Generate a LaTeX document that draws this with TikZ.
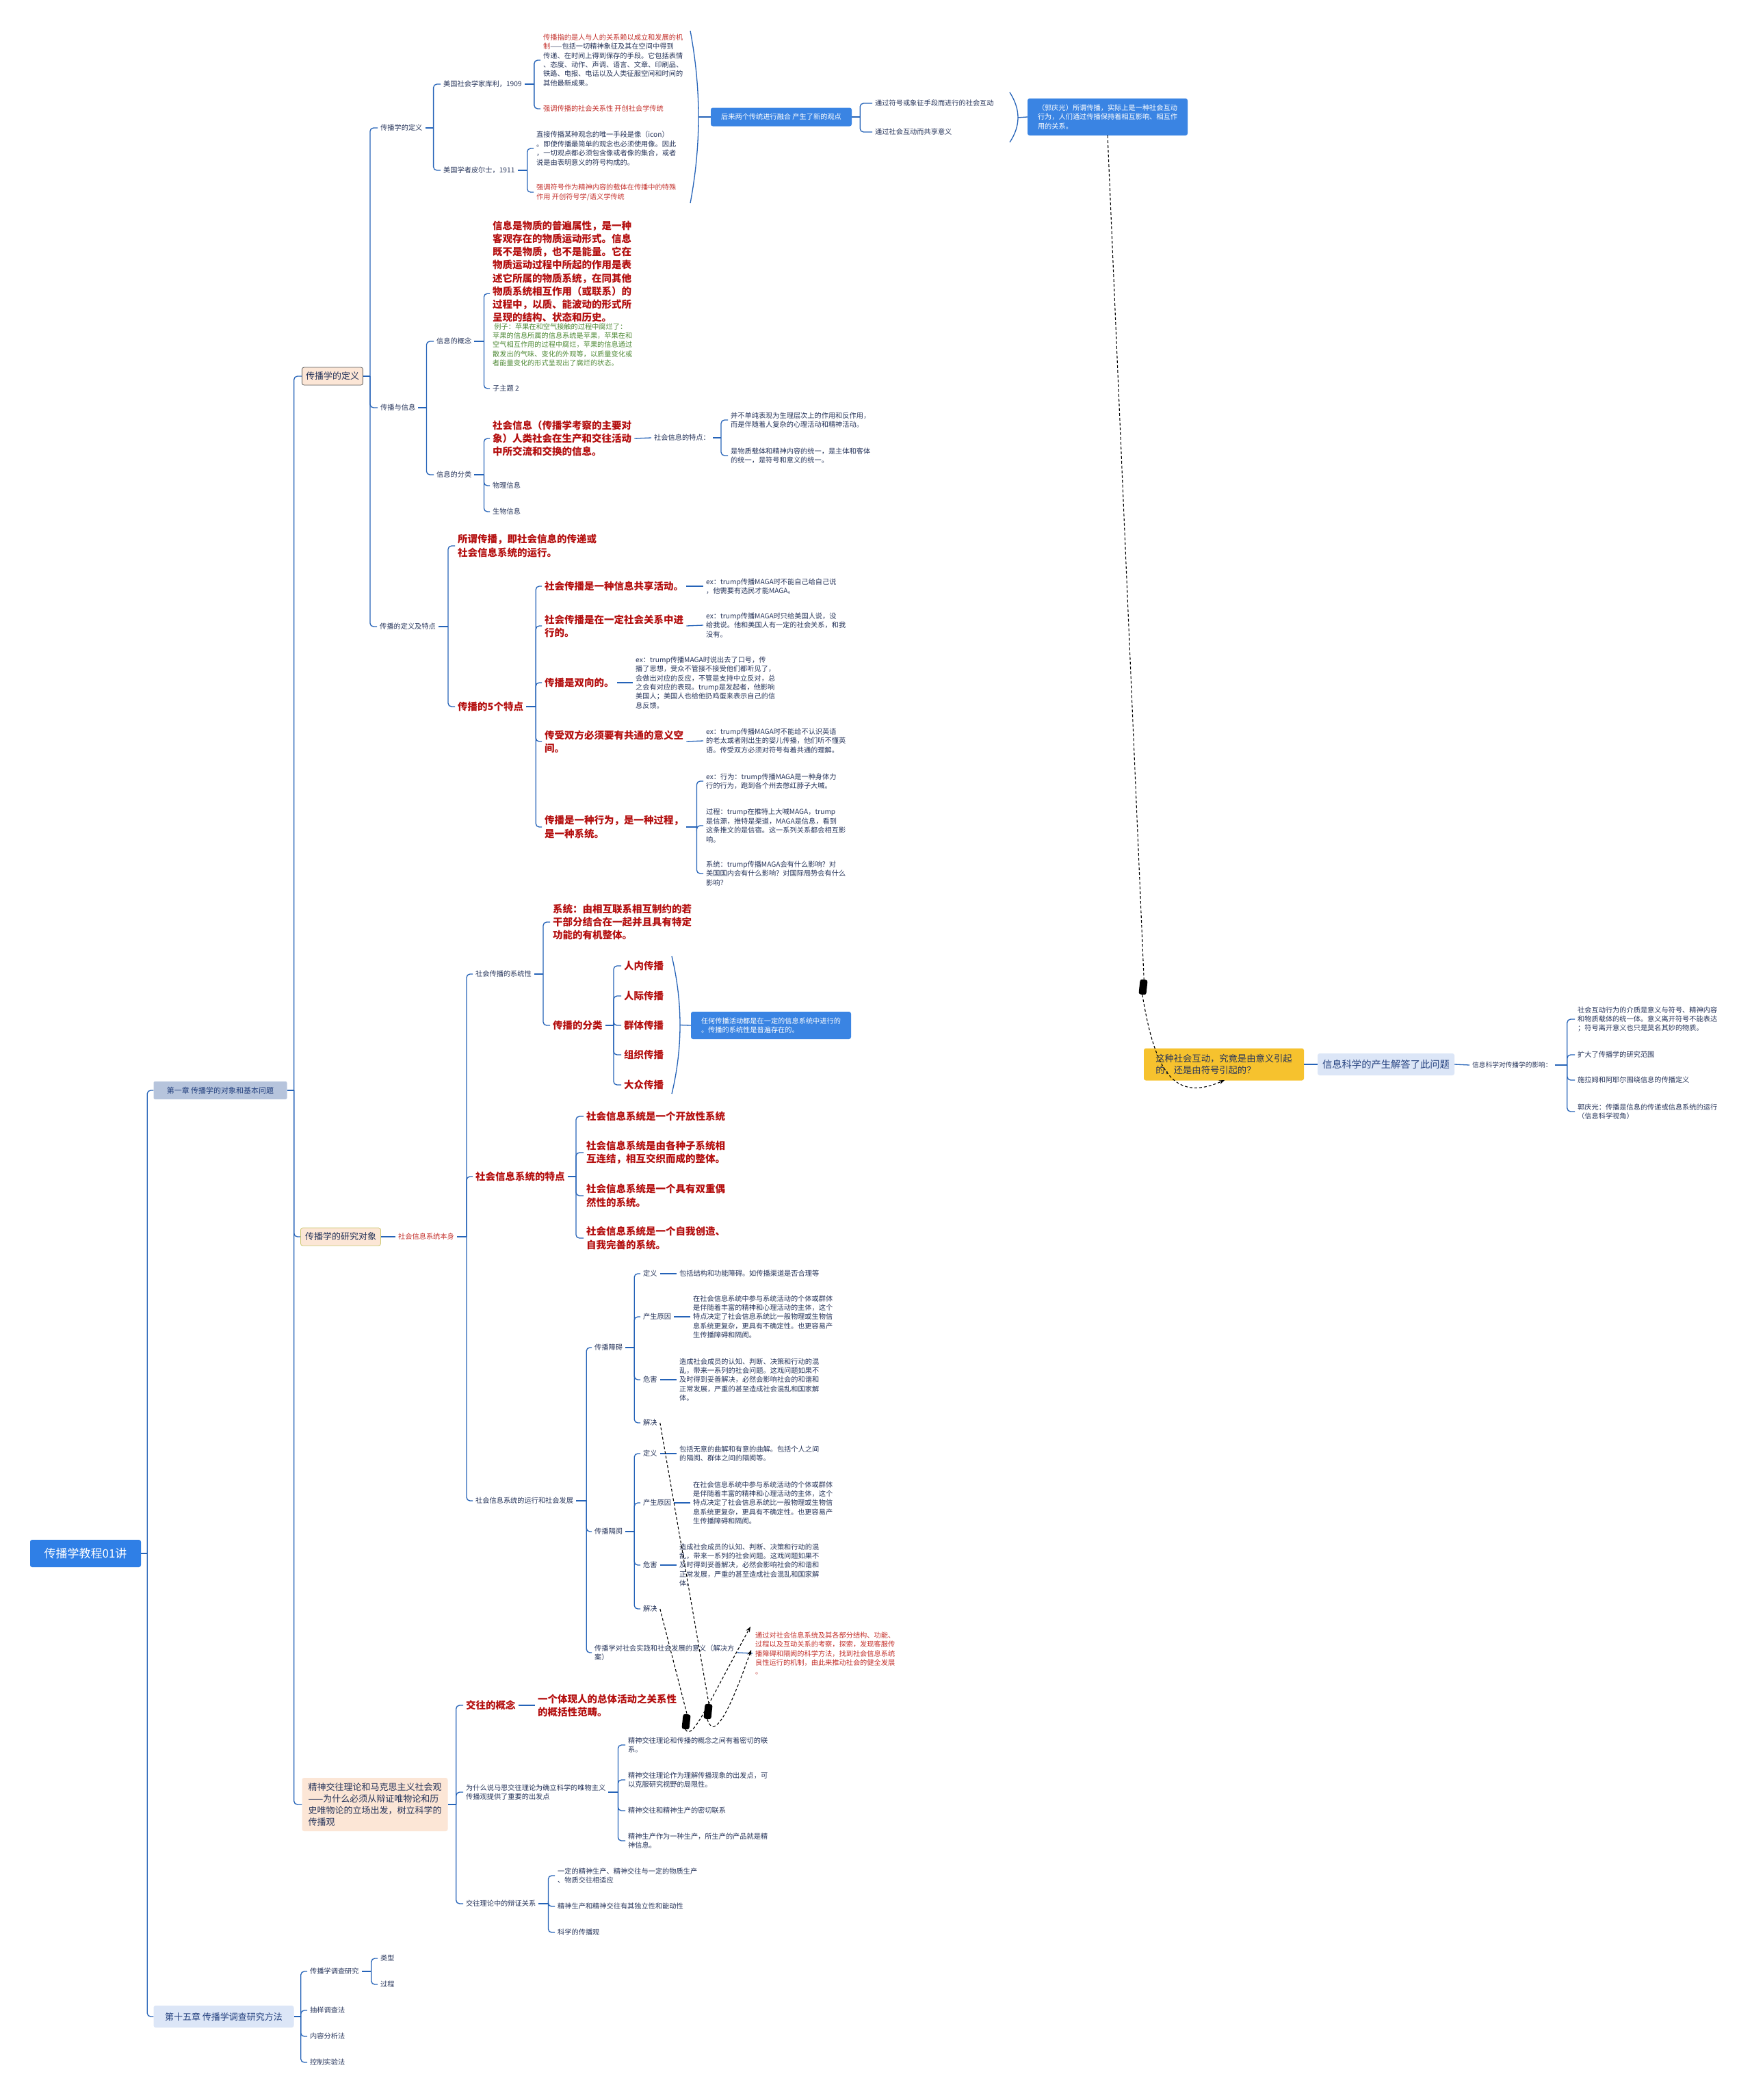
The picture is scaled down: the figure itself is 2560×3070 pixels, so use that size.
\documentclass[tikz,border=0pt]{standalone}
\usepackage{fontspec}
\setmainfont{Noto Sans CJK SC}
\usepackage{tikz}
\usetikzlibrary{arrows.meta,calc}
\definecolor{linkblue}{HTML}{2563B8}
\definecolor{navy}{HTML}{26345A}
\definecolor{redtext}{HTML}{C4302B}
\definecolor{darkred}{HTML}{B40F0F}
\definecolor{leafgreen}{HTML}{4F8A36}
\definecolor{boxblue}{HTML}{3A84E3}
\definecolor{rootblue}{HTML}{2F7FE6}
\definecolor{paleblue}{HTML}{DCE6F7}
\definecolor{chapgray}{HTML}{B6C4DC}
\definecolor{chaptext}{HTML}{23407E}
\definecolor{peach}{HTML}{FCE6D6}
\definecolor{gold}{HTML}{F6C22E}

\tikzset{
  link/.style={draw=linkblue, line width=1.3pt, rounded corners=5pt},
  brace/.style={draw=linkblue, line width=1.3pt},
  rel/.style={draw=black, line width=1.1pt, dash pattern=on 4pt off 3pt},
  handle/.style={fill=black, rounded corners=3pt, minimum width=11pt, minimum height=22pt, inner sep=0pt},
  txt/.style={anchor=west, align=left, inner xsep=4pt, inner ysep=1pt, xshift=-4pt, text=navy, font=\fontsize{10.2}{13.4}\selectfont},
  redtxt/.style={txt, text=redtext},
  greentxt/.style={txt, text=leafgreen},
  bigred/.style={txt, text=darkred, font=\fontsize{14.5}{19.2}\selectfont\bfseries},
  bluebox/.style={fill=boxblue, text=white, rounded corners=3pt, align=left, inner sep=0pt, font=\fontsize{10.2}{13.5}\selectfont},
  peachbox/.style={fill=peach, text=navy, rounded corners=3pt, align=left, inner sep=0pt, font=\fontsize{13}{17.3}\selectfont},
}

\begin{document}
\begin{tikzpicture}[x=1pt, y=-1pt]
  \fill[white] (0,0) rectangle (2560,3070);
  \useasboundingbox (0,0) rectangle (2560,3070);

  % 1. root and chapters
  \node[fill=rootblue, text=white, rounded corners=3pt, minimum width=162pt, minimum height=40pt, inner sep=0pt, font=\fontsize{17}{20}\selectfont] (root) at (125,2271) {传播学教程01讲};
  \node[fill=chapgray, text=chaptext, rounded corners=2pt, minimum width=195pt, minimum height=26pt, inner sep=0pt, font=\fontsize{11}{13}\selectfont] (ch1) at (322,1594) {第一章 传播学的对象和基本问题};
  \node[fill=paleblue, text=chaptext, rounded corners=3pt, minimum width=205pt, minimum height=32pt, inner sep=0pt, font=\fontsize{13}{15}\selectfont] (ch15) at (327,2948) {第十五章 传播学调查研究方法};
  \draw[link] (root.east) -- ++(9,0) coordinate (j0);
  \foreach \n in {ch1,ch15} \draw[link] (j0) |- (\n.west);

  % 2. chapter one topics
  \node[peachbox, draw=gray!70!black, line width=0.8pt, minimum width=89pt, minimum height=26pt] (def) at (486,550) {传播学的定义};
  \node[peachbox, draw=olive!45, line width=0.8pt, minimum width=117pt, minimum height=26pt] (obj) at (498,1808) {传播学的研究对象};
  \node[peachbox, minimum width=213pt, minimum height=78pt] (spirit) at (548,2638) {精神交往理论和马克思主义社会观\\——为什么必须从辩证唯物论和历\\史唯物论的立场出发，树立科学的\\传播观};
  \draw[link] (ch1.east) -- ++(10,0) coordinate (j1);
  \foreach \n in {def,obj,spirit} \draw[link] (j1) |- (\n.west);

  \node[txt] (d1) at (556,187) {传播学的定义};
  \node[txt] (d2) at (556,596) {传播与信息};
  \node[txt] (d3) at (555,916) {传播的定义及特点};
  \draw[link] (def.east) -- ++(10,0) coordinate (j2);
  \foreach \n in {d1,d2,d3} \draw[link] (j2) |- (\n.west);

  % 3. definitions of communication
  \node[txt] (kuli) at (648,123) {美国社会学家库利，1909};
  \node[txt] (peirce) at (648,249) {美国学者皮尔士，1911};
  \draw[link] (d1.east) -- ++(12,0) coordinate (j3);
  \foreach \n in {kuli,peirce} \draw[link] (j3) |- (\n.west);

  \node[txt] (kuli1) at (794,88) {\textcolor{redtext}{传播指的是人与人的关系赖以成立和发展的机}\\\textcolor{redtext}{制}——包括一切精神象征及其在空间中得到\\传递、在时间上得到保存的手段。它包括表情\\、态度、动作、声调、语言、文章、印刷品、\\铁路、电报、电话以及人类征服空间和时间的\\其他最新成果。};
  \node[redtxt] (kuli2) at (794,159) {强调传播的社会关系性 开创社会学传统};
  \draw[link] (kuli.east) -- ++(14,0) coordinate (j4);
  \foreach \n in {kuli1,kuli2} \draw[link] (j4) |- (\n.west);

  \node[txt] (pei1) at (784,217) {直接传播某种观念的唯一手段是像（icon）\\。即使传播最简单的观念也必须使用像。因此\\，一切观点都必须包含像或者像的集合，或者\\说是由表明意义的符号构成的。};
  \node[redtxt] (pei2) at (784,281) {强调符号作为精神内容的载体在传播中的特殊\\作用 开创符号学/语义学传统};
  \draw[link] (peirce.east) -- ++(14,0) coordinate (j5);
  \foreach \n in {pei1,pei2} \draw[link] (j5) |- (\n.west);

  \draw[brace] (1009,45) .. controls (1025,130) and (1025,212) .. (1009,297) coordinate[pos=0.5] (s1);
  \node[bluebox, minimum width=206pt, minimum height=27pt] (fuse) at (1142,171) {后来两个传统进行融合 产生了新的观点};
  \draw[link] (s1) -- (fuse.west);
  \node[txt] (fuse1) at (1279,151) {通过符号或象征手段而进行的社会互动};
  \node[txt] (fuse2) at (1279,193) {通过社会互动而共享意义};
  \draw[link] (fuse.east) -- ++(12,0) coordinate (j6);
  \foreach \n in {fuse1,fuse2} \draw[link] (j6) |- (\n.west);

  \draw[brace] (1476,135) .. controls (1492,160) and (1492,184) .. (1476,208) coordinate[pos=0.5] (s2);
  \node[bluebox, minimum width=234pt, minimum height=54pt] (guo) at (1619,171) {（郭庆光）所谓传播，实际上是一种社会互动\\行为，人们通过传播保持着相互影响、相互作\\用的关系。};
  \draw[link] (s2) -- (guo.west);

  % 4. the question and information science
  \node[fill=gold, text=navy, rounded corners=3pt, minimum width=234pt, minimum height=47pt, inner sep=0pt, align=left, font=\fontsize{13.3}{17.5}\selectfont] (quest) at (1789,1556) {这种社会互动，究竟是由意义引起\\的，还是由符号引起的？};
  \node[fill=paleblue, text=chaptext, rounded corners=3pt, minimum width=200pt, minimum height=32pt, inner sep=0pt, font=\fontsize{14.3}{17}\selectfont] (infosci) at (2026,1556) {信息科学的产生解答了此问题};
  \node[txt, font=\fontsize{9.7}{12.5}\selectfont] (infoeff) at (2152,1557) {信息科学对传播学的影响：};
  \draw[link] (quest.east) -- (infosci.west);
  \draw[link] (infosci.east) -- (infoeff.west);
  \node[txt] (eff1) at (2306,1490) {社会互动行为的介质是意义与符号、精神内容\\和物质载体的统一体。意义离开符号不能表达\\；符号离开意义也只是莫名其妙的物质。};
  \node[txt] (eff2) at (2306,1542) {扩大了传播学的研究范围};
  \node[txt] (eff3) at (2306,1579) {施拉姆和阿耶尔围绕信息的传播定义};
  \node[txt] (eff4) at (2306,1625) {郭庆光：传播是信息的传递或信息系统的运行\\（信息科学视角）};
  \draw[link] (infoeff.east) -- ++(18,0) coordinate (j7);
  \foreach \n in {eff1,eff2,eff3,eff4} \draw[link] (j7) |- (\n.west);

  \node[handle, rotate=-6] (h1) at (1671,1443) {};
  \draw[rel] (guo.south) -- (h1.north);
  \draw[rel, -{Stealth[length=8pt, width=6pt]}] (h1.south) .. controls (1688,1565) and (1715,1612) .. (1790,1579);

  % 5. communication and information
  \node[txt] (concept) at (638,499) {信息的概念};
  \node[txt] (classes) at (638,694) {信息的分类};
  \draw[link] (d2.east) -- ++(12,0) coordinate (j8);
  \foreach \n in {concept,classes} \draw[link] (j8) |- (\n.west);

  \node[bigred] (conceptred) at (720,397) {信息是物质的普遍属性，是一种\\客观存在的物质运动形式。信息\\既不是物质，也不是能量。它在\\物质运动过程中所起的作用是表\\述它所属的物质系统，在同其他\\物质系统相互作用（或联系）的\\过程中，以质、能波动的形式所\\呈现的结构、状态和历史。};
  \node[greentxt] (conceptgreen) at (720,504) {\ 例子：苹果在和空气接触的过程中腐烂了：\\苹果的信息所属的信息系统是苹果，苹果在和\\空气相互作用的过程中腐烂，苹果的信息通过\\散发出的气味、变化的外观等，以质量变化或\\者能量变化的形式呈现出了腐烂的状态。};
  \node[txt] (sub2) at (720,568) {子主题 2};
  \draw[link] (concept.east) -- ++(14,0) coordinate (j9);
  \draw[link] (j9) |- ($(conceptred.north west)!0.5!(conceptgreen.south west)$);
  \draw[link] (j9) |- (sub2.west);

  \node[bigred] (social) at (720,641) {社会信息（传播学考察的主要对\\象）人类社会在生产和交往活动\\中所交流和交换的信息。};
  \node[txt] (physical) at (720,710) {物理信息};
  \node[txt] (biological) at (720,748) {生物信息};
  \draw[link] (classes.east) -- ++(14,0) coordinate (j10);
  \foreach \n in {social,physical,biological} \draw[link] (j10) |- (\n.west);

  \node[txt] (sfeat) at (956,640) {社会信息的特点：};
  \draw[link] (social.east) -- (sfeat.west);
  \node[txt] (sf1) at (1068,614) {并不单纯表现为生理层次上的作用和反作用，\\而是伴随着人复杂的心理活动和精神活动。};
  \node[txt] (sf2) at (1068,666) {是物质载体和精神内容的统一，是主体和客体\\的统一，是符号和意义的统一。};
  \draw[link] (sfeat.east) -- ++(12,0) coordinate (j11);
  \foreach \n in {sf1,sf2} \draw[link] (j11) |- (\n.west);

  % 6. definition and five features
  \node[bigred] (def2) at (669,798) {所谓传播，即社会信息的传递或\\社会信息系统的运行。};
  \node[bigred] (five) at (669,1033) {传播的5个特点};
  \draw[link] (d3.east) -- ++(14,0) coordinate (j12);
  \foreach \n in {def2,five} \draw[link] (j12) |- (\n.west);

  \node[bigred] (t1) at (796,857) {社会传播是一种信息共享活动。};
  \node[bigred] (t2) at (796,915) {社会传播是在一定社会关系中进\\行的。};
  \node[bigred] (t3) at (796,998) {传播是双向的。};
  \node[bigred] (t4) at (796,1084) {传受双方必须要有共通的意义空\\间。};
  \node[bigred] (t5) at (796,1209) {传播是一种行为，是一种过程，\\是一种系统。};
  \draw[link] (five.east) -- ++(14,0) coordinate (j13);
  \foreach \n in {t1,t2,t3,t4,t5} \draw[link] (j13) |- (\n.west);

  \node[txt] (ex1) at (1032,857) {ex：trump传播MAGA时不能自己给自己说\\，他需要有选民才能MAGA。};
  \node[txt] (ex2) at (1032,914) {ex：trump传播MAGA时只给美国人说，没\\给我说。他和美国人有一定的社会关系，和我\\没有。};
  \node[txt] (ex3) at (929,998) {ex：trump传播MAGA时说出去了口号，传\\播了思想，受众不管接不接受他们都听见了，\\会做出对应的反应，不管是支持中立反对，总\\之会有对应的表现。trump是发起者，他影响\\美国人；美国人也给他扔鸡蛋来表示自己的信\\息反馈。};
  \node[txt] (ex4) at (1032,1083) {ex：trump传播MAGA时不能给不认识英语\\的老太或者刚出生的婴儿传播，他们听不懂英\\语。传受双方必须对符号有着共通的理解。};
  \foreach \a/\b in {t1/ex1,t2/ex2,t3/ex3,t4/ex4} \draw[link] (\a.east) -- (\b.west);

  \node[txt] (ex5a) at (1032,1142) {ex：行为：trump传播MAGA是一种身体力\\行的行为，跑到各个州去憋红脖子大喊。};
  \node[txt] (ex5b) at (1032,1207) {过程：trump在推特上大喊MAGA，trump\\是信源，推特是渠道，MAGA是信息，看到\\这条推文的是信宿。这一系列关系都会相互影\\响。};
  \node[txt] (ex5c) at (1032,1277) {系统：trump传播MAGA会有什么影响？对\\美国国内会有什么影响？对国际局势会有什么\\影响？};
  \draw[link] (t5.east) -- ++(15,0) coordinate (j14);
  \foreach \n in {ex5a,ex5b,ex5c} \draw[link] (j14) |- (\n.west);

  % 7. research object
  \node[redtxt] (objsys) at (582,1808) {社会信息系统本身};
  \draw[link] (obj.east) -- (objsys.west);
  \node[txt] (sys) at (695,1424) {社会传播的系统性};
  \node[bigred] (feat) at (695,1720) {社会信息系统的特点};
  \node[txt] (run) at (695,2194) {社会信息系统的运行和社会发展};
  \draw[link] (objsys.east) -- ++(14,0) coordinate (j15);
  \foreach \n in {sys,feat,run} \draw[link] (j15) |- (\n.west);

  \node[bigred] (sysdef) at (808,1348) {系统：由相互联系相互制约的若\\干部分结合在一起并且具有特定\\功能的有机整体。};
  \node[bigred] (kinds) at (808,1499) {传播的分类};
  \draw[link] (sys.east) -- ++(13,0) coordinate (j16);
  \foreach \n in {sysdef,kinds} \draw[link] (j16) |- (\n.west);

  \node[bigred] (kind1) at (912,1412) {人内传播};
  \node[bigred] (kind2) at (912,1456) {人际传播};
  \node[bigred] (kind3) at (912,1499) {群体传播};
  \node[bigred] (kind4) at (912,1542) {组织传播};
  \node[bigred] (kind5) at (912,1586) {大众传播};
  \draw[link] (kinds.east) -- ++(12,0) coordinate (j17);
  \foreach \n in {kind1,kind2,kind3,kind4,kind5} \draw[link] (j17) |- (\n.west);

  \draw[brace] (982,1398) .. controls (998,1465) and (998,1532) .. (982,1599) coordinate[pos=0.5] (s3);
  \node[bluebox, minimum width=234pt, minimum height=40pt] (anybox) at (1127,1499) {任何传播活动都是在一定的信息系统中进行的\\。传播的系统性是普遍存在的。};
  \draw[link] (s3) -- (anybox.west);

  \node[bigred] (fe1) at (857,1632) {社会信息系统是一个开放性系统};
  \node[bigred] (fe2) at (857,1685) {社会信息系统是由各种子系统相\\互连结，相互交织而成的整体。};
  \node[bigred] (fe3) at (857,1748) {社会信息系统是一个具有双重偶\\然性的系统。};
  \node[bigred] (fe4) at (857,1810) {社会信息系统是一个自我创造、\\自我完善的系统。};
  \draw[link] (feat.east) -- ++(12,0) coordinate (j18);
  \foreach \n in {fe1,fe2,fe3,fe4} \draw[link] (j18) |- (\n.west);

  % 8. barriers and gaps
  \node[txt] (bar) at (869,1970) {传播障碍};
  \node[txt] (gap) at (869,2239) {传播隔阂};
  \node[txt] (mean) at (869,2416) {传播学对社会实践和社会发展的意义（解决方\\案）};
  \draw[link] (run.east) -- ++(15,0) coordinate (j19);
  \foreach \n in {bar,gap,mean} \draw[link] (j19) |- (\n.west);

  \node[txt] (bdef) at (940,1862) {定义};
  \node[txt] (bcause) at (940,1925) {产生原因};
  \node[txt] (bharm) at (940,2017) {危害};
  \node[txt] (bsol) at (940,2080) {解决};
  \draw[link] (bar.east) -- ++(13,0) coordinate (j20);
  \foreach \n in {bdef,bcause,bharm,bsol} \draw[link] (j20) |- (\n.west);

  \node[txt] (gdef) at (940,2125) {定义};
  \node[txt] (gcause) at (940,2197) {产生原因};
  \node[txt] (gharm) at (940,2288) {危害};
  \node[txt] (gsol) at (940,2352) {解决};
  \draw[link] (gap.east) -- ++(13,0) coordinate (j21);
  \foreach \n in {gdef,gcause,gharm,gsol} \draw[link] (j21) |- (\n.west);

  \node[txt] (bdeft) at (993,1862) {包括结构和功能障碍。如传播渠道是否合理等};
  \node[txt] (bcauset) at (1013,1925) {在社会信息系统中参与系统活动的个体或群体\\是伴随着丰富的精神和心理活动的主体，这个\\特点决定了社会信息系统比一般物理或生物信\\息系统更复杂，更具有不确定性。也更容易产\\生传播障碍和隔阂。};
  \node[txt] (bharmt) at (993,2017) {造成社会成员的认知、判断、决策和行动的混\\乱，带来一系列的社会问题。这戏问题如果不\\及时得到妥善解决，必然会影响社会的和谐和\\正常发展，严重的甚至造成社会混乱和国家解\\体。};
  \node[txt] (gdeft) at (993,2125) {包括无意的曲解和有意的曲解。包括个人之间\\的隔阂、群体之间的隔阂等。};
  \node[txt] (gcauset) at (1013,2197) {在社会信息系统中参与系统活动的个体或群体\\是伴随着丰富的精神和心理活动的主体，这个\\特点决定了社会信息系统比一般物理或生物信\\息系统更复杂，更具有不确定性。也更容易产\\生传播障碍和隔阂。};
  \node[txt] (gharmt) at (993,2288) {造成社会成员的认知、判断、决策和行动的混\\乱，带来一系列的社会问题。这戏问题如果不\\及时得到妥善解决，必然会影响社会的和谐和\\正常发展，严重的甚至造成社会混乱和国家解\\体。};
  \foreach \a/\b in {bdef/bdeft,bcause/bcauset,bharm/bharmt,gdef/gdeft,gcause/gcauset,gharm/gharmt} \draw[link] (\a.east) -- (\b.west);

  \node[redtxt] (meant) at (1104,2417) {通过对社会信息系统及其各部分结构、功能、\\过程以及互动关系的考察，探索，发现客服传\\播障碍和隔阂的科学方法，找到社会信息系统\\良性运行的机制，由此来推动社会的健全发展\\。};
  \draw[link] (mean.east) -- (meant.west);

  \node[handle, rotate=-6] (h2) at (1003,2517) {};
  \node[handle, rotate=-6] (h3) at (1035,2502) {};
  \draw[rel] (bsol.east) -- (h3.north);
  \draw[rel, -{Stealth[length=8pt, width=6pt]}] (h3.south) .. controls (1042,2540) and (1060,2520) .. (1098,2412);
  \draw[rel] (gsol.east) -- (h2.north);
  \draw[rel, -{Stealth[length=8pt, width=6pt]}] (h2.south) .. controls (1012,2545) and (1030,2500) .. (1097,2378);

  % 9. spiritual communication
  \node[bigred] (conc) at (681,2493) {交往的概念};
  \node[txt] (why) at (681,2620) {为什么说马恩交往理论为确立科学的唯物主义\\传播观提供了重要的出发点};
  \node[txt] (dial) at (681,2783) {交往理论中的辩证关系};
  \draw[link] (spirit.east) -- ++(12,0) coordinate (j22);
  \foreach \n in {conc,why,dial} \draw[link] (j22) |- (\n.west);

  \node[bigred] (conct) at (786,2493) {一个体现人的总体活动之关系性\\的概括性范畴。};
  \draw[link] (conc.east) -- (conct.west);

  \node[txt] (w1) at (918,2551) {精神交往理论和传播的概念之间有着密切的联\\系。};
  \node[txt] (w2) at (918,2602) {精神交往理论作为理解传播现象的出发点，可\\以克服研究视野的局限性。};
  \node[txt] (w3) at (918,2647) {精神交往和精神生产的密切联系};
  \node[txt] (w4) at (918,2691) {精神生产作为一种生产，所生产的产品就是精\\神信息。};
  \draw[link] (why.east) -- ++(14,0) coordinate (j23);
  \foreach \n in {w1,w2,w3,w4} \draw[link] (j23) |- (\n.west);

  \node[txt] (dl1) at (815,2742) {一定的精神生产、精神交往与一定的物质生产\\、物质交往相适应};
  \node[txt] (dl2) at (815,2787) {精神生产和精神交往有其独立性和能动性};
  \node[txt] (dl3) at (815,2825) {科学的传播观};
  \draw[link] (dial.east) -- ++(14,0) coordinate (j24);
  \foreach \n in {dl1,dl2,dl3} \draw[link] (j24) |- (\n.west);

  % 10. chapter fifteen
  \node[txt] (m1) at (453,2882) {传播学调查研究};
  \node[txt] (m2) at (453,2939) {抽样调查法};
  \node[txt] (m3) at (453,2977) {内容分析法};
  \node[txt] (m4) at (453,3015) {控制实验法};
  \draw[link] (ch15.east) -- ++(10,0) coordinate (j25);
  \foreach \n in {m1,m2,m3,m4} \draw[link] (j25) |- (\n.west);

  \node[txt] (mtype) at (556,2863) {类型};
  \node[txt] (mproc) at (556,2901) {过程};
  \draw[link] (m1.east) -- ++(14,0) coordinate (j26);
  \foreach \n in {mtype,mproc} \draw[link] (j26) |- (\n.west);
\end{tikzpicture}
\end{document}
